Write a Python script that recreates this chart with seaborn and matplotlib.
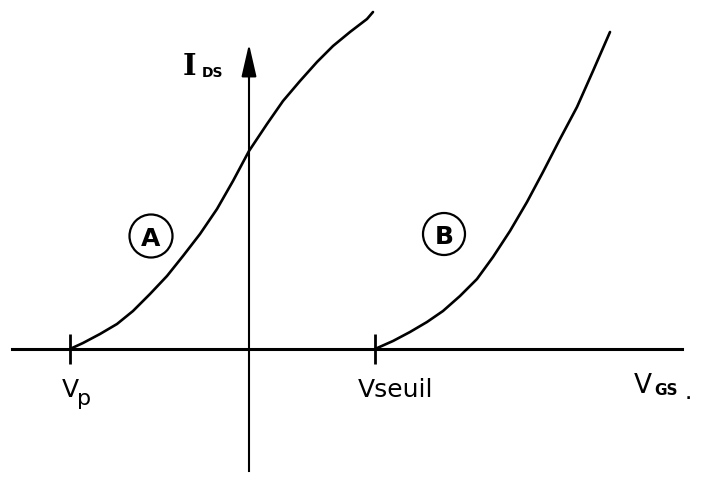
import matplotlib
matplotlib.use("Agg")
import matplotlib.pyplot as plt
from matplotlib.patches import Circle
import pandas as pd
import seaborn as sns

sns.set_theme(style="white")
plt.rcParams['font.family'] = ['DejaVu Sans']
plt.rcParams['text.color'] = 'black'

# courbe A (appauvrissement) et courbe B (enrichissement)
vgs_a = [-1.79, -1.66, -1.49, -1.32, -1.16, -0.99, -0.82, -0.66, -0.49, -0.32,
         -0.16, 0.00, 0.18, 0.34, 0.51, 0.68, 0.84, 1.01, 1.18, 1.24]
ids_a = [0.00, 0.06, 0.15, 0.25, 0.38, 0.55, 0.73, 0.93, 1.15, 1.40,
         1.68, 1.98, 2.25, 2.48, 2.68, 2.87, 3.03, 3.17, 3.30, 3.37]
vgs_b = [1.26, 1.44, 1.61, 1.78, 1.94, 2.11, 2.28, 2.44, 2.61, 2.78,
         2.94, 3.11, 3.28, 3.44, 3.61]
ids_b = [0.00, 0.08, 0.17, 0.27, 0.38, 0.53, 0.70, 0.92, 1.18, 1.47,
         1.77, 2.10, 2.42, 2.78, 3.17]

v_p = -1.79
v_seuil = 1.26

df = pd.concat([
    pd.DataFrame({"vgs": vgs_a, "ids": ids_a, "courbe": "A"}),
    pd.DataFrame({"vgs": vgs_b, "ids": ids_b, "courbe": "B"}),
])

fig = plt.figure(figsize=(7.01, 4.85), dpi=100)
ax = fig.add_axes([0, 0, 1, 1])

sns.lineplot(data=df, x="vgs", y="ids", hue="courbe", units="courbe",
             estimator=None, sort=False, palette={"A": "black", "B": "black"},
             linewidth=1.9, legend=False, ax=ax)
for line in ax.lines:
    line.set_solid_joinstyle("round")
    line.set_solid_capstyle("round")

ax.set_xlim(-2.49, 4.52)
ax.set_ylim(-1.35, 3.50)
ax.set_aspect("equal")
ax.set_xlabel("")
ax.set_ylabel("")

# axes passing through the origin
ax.spines["top"].set_visible(False)
ax.spines["right"].set_visible(False)
ax.spines["bottom"].set_position(("data", 0))
ax.spines["left"].set_position(("data", 0))
ax.spines["bottom"].set_bounds(-2.37, 4.33)
ax.spines["left"].set_bounds(-1.22, 2.9)
ax.spines["bottom"].set_linewidth(2.2)
ax.spines["left"].set_linewidth(1.5)
ax.spines["bottom"].set_color("black")
ax.spines["left"].set_color("black")

ax.set_xticks([v_p, v_seuil])
ax.set_xticklabels([])
ax.set_yticks([])
ax.tick_params(axis="x", direction="inout", length=21, width=2.0,
               color="black", bottom=True)

# arrow head on the vertical axis
ax.annotate("", xy=(0, 3.05), xytext=(0, 2.7),
            arrowprops=dict(arrowstyle="-|>,head_length=1.0,head_width=0.23",
                            mutation_scale=20, color="black", lw=1.5,
                            shrinkA=0, shrinkB=0))

# labels
ax.text(-0.66, 2.75, "I", family="DejaVu Serif", fontsize=21,
        fontweight="bold", va="baseline")
ax.text(-0.47, 2.73, "DS", fontsize=10, fontweight="bold", va="baseline")

ax.text(-1.87, -0.47, "V", fontsize=18, va="baseline")
ax.text(-1.72, -0.55, "p", fontsize=16, va="baseline")

ax.text(1.09, -0.47, "Vseuil", fontsize=18, va="baseline")

ax.text(3.85, -0.43, "V", fontsize=19, va="baseline")
ax.text(4.05, -0.45, "GS", fontsize=11, fontweight="bold", va="baseline")
ax.text(4.37, -0.49, ".", fontsize=10, fontweight="bold", va="baseline")

# circled curve names
for name, cx, cy, r in [("A", -0.98, 1.13, 0.215), ("B", 1.95, 1.15, 0.21)]:
    ax.add_patch(Circle((cx, cy), r, fill=False, edgecolor="black", lw=1.6))
    ax.text(cx, cy, name, fontsize=18, fontweight="bold",
            ha="center", va="center_baseline")

fig.savefig("out.png", dpi=100)
